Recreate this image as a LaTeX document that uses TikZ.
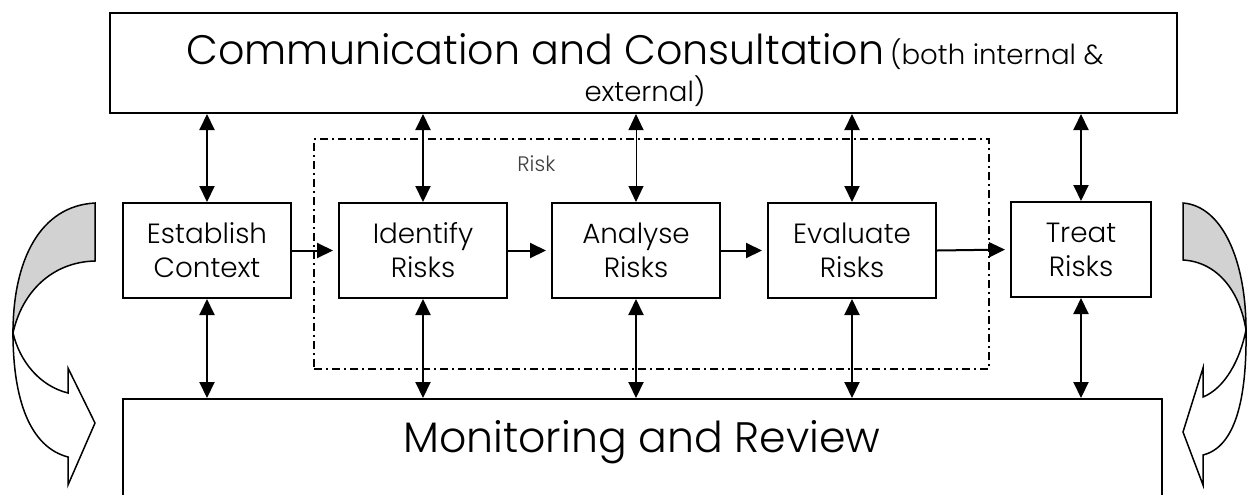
\documentclass[tikz,border=0pt]{standalone}
\usepackage{fontspec}
\setmainfont{Poppins Light}
\usetikzlibrary{arrows.meta}
\begin{document}
\begin{tikzpicture}[x=0.5pt,y=-0.5pt,
  box/.style={draw, line width=1pt, minimum width=84pt, minimum height=47.5pt, align=center,
    font=\fontsize{13.9}{17}\selectfont, inner sep=0pt},
  link/.style={line width=1pt, -{Triangle[length=8pt,width=7.5pt]}, shorten >=2.5pt},
  dlink/.style={line width=1pt, {Triangle[length=8pt,width=7.5pt]}-{Triangle[length=8pt,width=7.5pt]}},
  curved/.style={draw, line width=0.75pt, line join=miter}]
\useasboundingbox (0,0) rectangle (1248,494);
\clip (0,0) rectangle (1248,494);
% frames
\node[draw, line width=1pt, minimum width=533.5pt, minimum height=50pt, inner sep=0pt] (comm) at (643.5,63) {};
\node[anchor=base, inner sep=0pt] (ctext1) at (645,64)
  {{\fontsize{20.6}{25}\selectfont Communication and Consultation} {\fontsize{13.8}{17}\selectfont(both internal \&}};
\node[anchor=base, inner sep=0pt] (ctext2) at (645,101) {\fontsize{13.8}{17}\selectfont external)};
\node[draw, line width=1pt, minimum width=519.5pt, minimum height=80pt, inner sep=0pt, anchor=north] (mon) at (642.5,398) {};
\node[anchor=base, inner sep=0pt] (mtext) at (642,452) {\fontsize{21.3}{25}\selectfont Monitoring and Review};
\node[draw, line width=0.75pt, dash pattern=on 4pt off 2pt on 1pt off 2pt, minimum width=337.5pt, minimum height=115pt, inner sep=0pt] (zone) at (651.5,254) {};
\node[anchor=base west, inner sep=0pt, text=black!75] (risk) at (517,171) {\fontsize{10.5}{12}\selectfont Risk};
% process boxes
\node[box] (est) at (207,250.5) {Establish\\Context};
\node[box] (idf) at (423,250.5) {Identify\\Risks};
\node[box] (ana) at (636,250.5) {Analyse\\Risks};
\node[box] (eva) at (852,250.5) {Evaluate\\Risks};
\node[box, minimum width=70pt] (trt) at (1081,249.5) {Treat\\Risks};
% horizontal flow
\draw[link] (est.east) -- (idf.west);
\draw[link] (idf.east) -- (ana.west);
\draw[link] (ana.east) -- (eva.west);
\draw[link] (eva.east) -- (trt.west);
% vertical links
\draw[dlink] (comm.south -| est.north) -- (est.north);
\draw[dlink] (comm.south -| idf.north) -- (idf.north);
\draw[dlink, line width=0.5pt] (comm.south -| ana.north) -- (ana.north);
\draw[dlink] (comm.south -| eva.north) -- (eva.north);
\draw[dlink] (comm.south -| trt.north) -- (trt.north);
\draw[dlink] (est.south) -- (est.south |- mon.north);
\draw[dlink] (idf.south) -- (idf.south |- mon.north);
\draw[dlink] (ana.south) -- (ana.south |- mon.north);
\draw[dlink] (eva.south) -- (eva.south |- mon.north);
\draw[dlink] (trt.south) -- (trt.south |- mon.north);
% curved arrows, left
\draw[curved, fill=gray!35] (95,203) .. controls (40,206) and (13,260) .. (13,333)
  .. controls (22,292) and (52,262) .. (95,261) -- cycle;
\draw[curved, fill=white] (13,333) .. controls (20,362) and (40,386) .. (68,393)
  -- (68,368) -- (95,423) -- (68,485) -- (68,457)
  .. controls (30,447) and (13,400) .. (13,333) -- cycle;
% curved arrows, right
\draw[curved, fill=gray!35] (1183,203) .. controls (1222,206) and (1246,260) .. (1246,330)
  .. controls (1240,292) and (1218,262) .. (1183,260) -- cycle;
\draw[curved, fill=white] (1246,330) .. controls (1240,360) and (1225,388) .. (1203,397)
  -- (1203,368) -- (1183,432) -- (1203,485) -- (1203,455)
  .. controls (1235,447) and (1247,400) .. (1246,330) -- cycle;
\end{tikzpicture}
\end{document}
